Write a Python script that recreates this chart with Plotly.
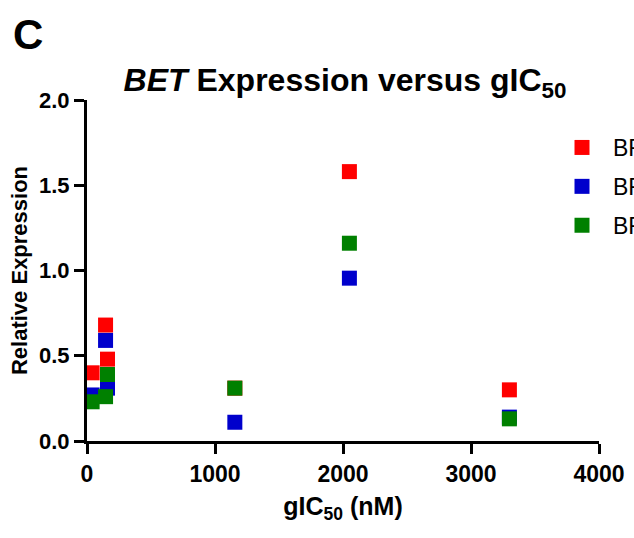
import plotly.graph_objects as go

gic50 = [40, 145, 160, 1155, 2050, 3300]
brd2 = [0.40, 0.68, 0.48, 0.31, 1.58, 0.30]
brd3 = [0.27, 0.59, 0.31, 0.11, 0.955, 0.14]
brd4 = [0.23, 0.26, 0.39, 0.31, 1.16, 0.13]
series_names = ["BRD2", "BRD3", "BRD4"]
series_vals = [brd2, brd3, brd4]
colors = ["#FF0000", "#0000CC", "#008000"]

FONT = "Liberation Sans, Arial, sans-serif"

fig = go.Figure()
for name, vals, c in zip(series_names, series_vals, colors):
    fig.add_trace(go.Scatter(
        x=gic50, y=vals, mode="markers", name=name, legendgroup=name,
        marker=dict(symbol="square", size=15, color=c, line=dict(width=0)),
        cliponaxis=False,
    ))

fig.update_layout(
    width=634, height=538,
    margin=dict(l=87, r=35, t=100, b=97, autoexpand=False),
    paper_bgcolor="white", plot_bgcolor="white",
    font=dict(family=FONT, color="black"),
    title=dict(
        text="<b><i>BET</i> Expression versus gIC<sub>50</sub></b>",
        x=345/634, xanchor="center", y=1 - 80/538, yanchor="middle",
        font=dict(size=32, family=FONT, color="black"),
    ),
    showlegend=True,
    legend=dict(
        xref="container", yref="container",
        x=551/634, xanchor="left", y=1 - 126/538, yanchor="top",
        font=dict(size=23, family=FONT, color="black"),
        bgcolor="rgba(0,0,0,0)", tracegroupgap=6,
        itemsizing="trace", itemwidth=52,
    ),
    xaxis=dict(
        range=[0, 4000], tickvals=[0, 1000, 2000, 3000, 4000],
        showgrid=False, zeroline=False, showline=True, linecolor="black", linewidth=3,
        ticks="outside", ticklen=10, tickwidth=3, tickcolor="black",
        tickfont=dict(size=23, family=FONT, color="black", weight="bold"),
        title=dict(text="<b>gIC<sub>50</sub> (nM)</b>", font=dict(size=25, family=FONT, color="black"), standoff=12),
    ),
    yaxis=dict(
        range=[0, 2.0], tickvals=[0, 0.5, 1.0, 1.5, 2.0], ticktext=["0.0", "0.5", "1.0", "1.5", "2.0"],
        showgrid=False, zeroline=False, showline=True, linecolor="black", linewidth=3,
        ticks="outside", ticklen=10, tickwidth=3, tickcolor="black",
        tickfont=dict(size=22, family=FONT, color="black", weight="bold"),
        title=dict(text="<b>Relative Expression</b>", font=dict(size=22, family=FONT, color="black"), standoff=6),
    ),
    annotations=[dict(
        text="<b>C</b>", xref="paper", yref="paper", x=-76/512, y=1 + 65/341,
        xanchor="left", yanchor="middle", showarrow=False,
        font=dict(size=42, family=FONT, color="black"),
    )],
)

fig.write_html("out.html")
